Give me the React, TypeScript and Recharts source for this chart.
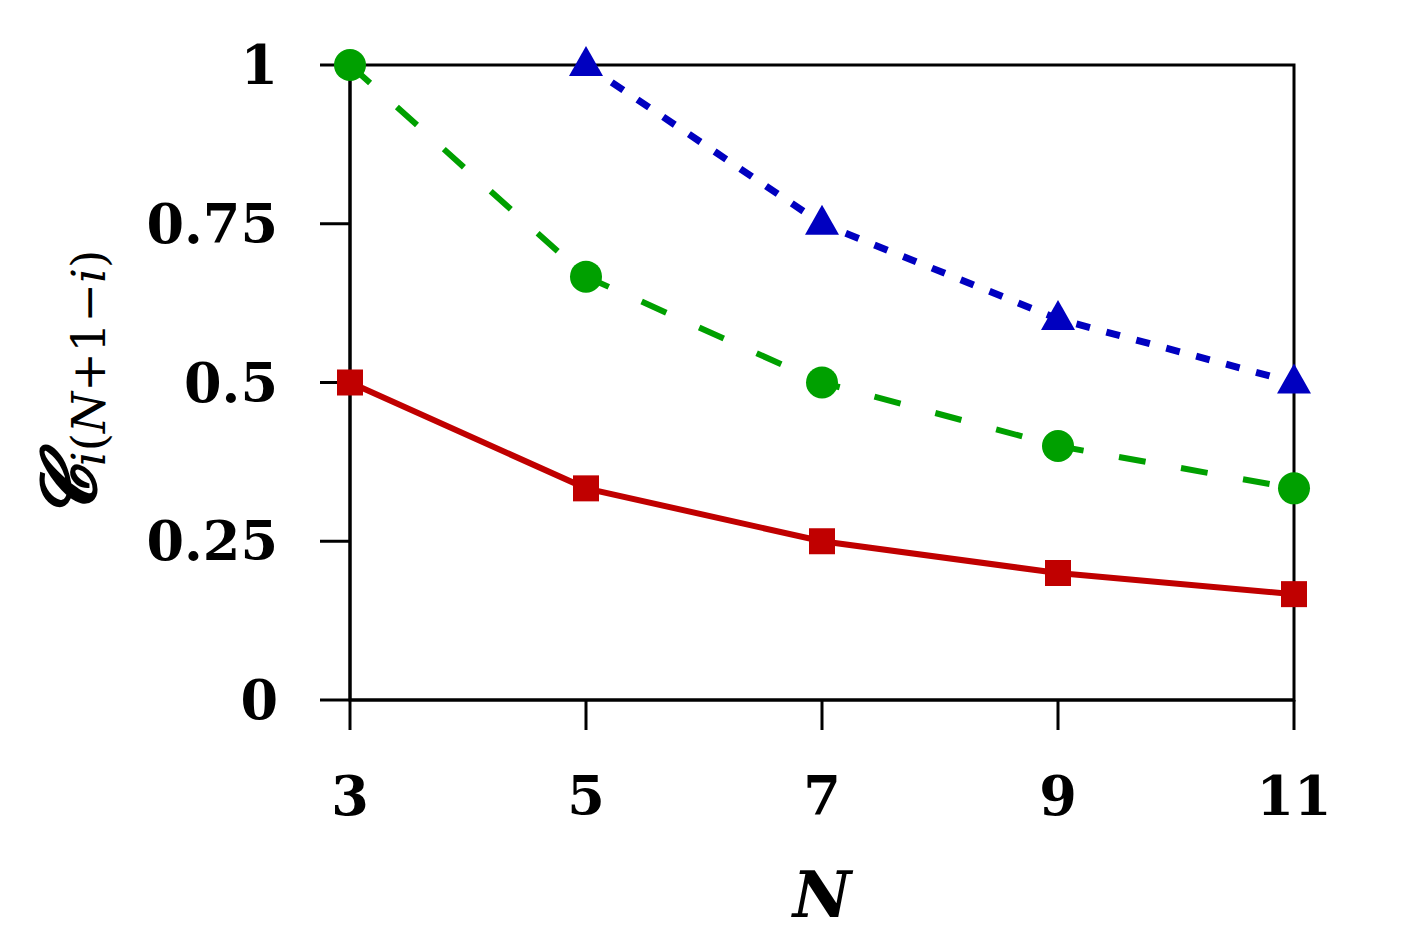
import React from "react";
import { LineChart, Line, XAxis, YAxis, ReferenceArea } from "recharts";

const nValues = [3, 5, 7, 9, 11];
const solidValues = [0.5, 0.3333, 0.25, 0.2, 0.1667];
const dashedValues = [1, 0.6667, 0.5, 0.4, 0.3333];
const dottedValues = [null, 1, 0.75, 0.6, 0.5];
const xTicks = [3, 5, 7, 9, 11];
const yTicks = [0, 0.25, 0.5, 0.75, 1];
const yTickLabels = ["0", "0.25", "0.5", "0.75", "1"];

const RED = "#c00000";
const GREEN = "#00a000";
const BLUE = "#0000c0";
const FONT = "'DejaVu Serif', serif";

const data = nValues.map((n, i) => ({
  n,
  solid: solidValues[i],
  dashed: dashedValues[i],
  dotted: dottedValues[i],
}));

function SquareDot(props: any) {
  const { cx, cy, index } = props;
  if (cx == null || cy == null) return <g key={`s-${index}`} />;
  return <rect key={`s-${index}`} x={cx - 13} y={cy - 13} width={26} height={26} fill={RED} />;
}

function CircleDot(props: any) {
  const { cx, cy, index } = props;
  if (cx == null || cy == null) return <g key={`c-${index}`} />;
  return <circle key={`c-${index}`} cx={cx} cy={cy} r={16} fill={GREEN} />;
}

function TriangleDot(props: any) {
  const { cx, cy, index, value } = props;
  if (cx == null || cy == null || value == null) return <g key={`t-${index}`} />;
  const pts = `${cx},${cy - 19} ${cx - 17},${cy + 11} ${cx + 17},${cy + 11}`;
  return <polygon key={`t-${index}`} points={pts} fill={BLUE} />;
}

function YLabel() {
  return (
    <text
      transform="rotate(-90)"
      x={-385}
      y={95}
      textAnchor="middle"
      fontFamily={FONT}
      fill="#000"
    >
      <tspan fontSize={76} fontStyle="italic" fontWeight="bold">𝓒</tspan>
      <tspan fontSize={47} dy={10} fontWeight="normal">
        <tspan fontStyle="italic">i</tspan>(<tspan fontStyle="italic">N</tspan>+1−<tspan fontStyle="italic">i</tspan>)
      </tspan>
    </text>
  );
}

function XLabel() {
  return (
    <text
      x={822}
      y={917}
      textAnchor="middle"
      fontFamily={FONT}
      fontWeight="bold"
      fontStyle="italic"
      fontSize={64}
      fill="#000"
    >
      N
    </text>
  );
}

export default function App() {
  return (
    <div style={{ position: "absolute", left: 0, top: 0, background: "#fff" }}>
      <LineChart
        width={1412}
        height={941}
        data={data}
        margin={{ top: 65, right: 118, left: 0, bottom: 0 }}
      >
        <XAxis
          dataKey="n"
          type="number"
          domain={[3, 11]}
          ticks={xTicks}
          height={241}
          tickSize={30}
          tickMargin={47}
          axisLine={{ stroke: "#000", strokeWidth: 3 }}
          tickLine={{ stroke: "#000", strokeWidth: 3 }}
          tick={{ fontSize: 54, fontFamily: FONT, fontWeight: "bold", fill: "#000" }}
          label={{ content: () => <XLabel /> }}
        />
        <YAxis
          type="number"
          domain={[0, 1]}
          ticks={yTicks}
          width={350}
          tickSize={30}
          tickMargin={42}
          tickFormatter={(v: number) => yTickLabels[yTicks.indexOf(v)] ?? String(v)}
          axisLine={{ stroke: "#000", strokeWidth: 3 }}
          tickLine={{ stroke: "#000", strokeWidth: 3 }}
          tick={{ fontSize: 54, fontFamily: FONT, fontWeight: "bold", fill: "#000" }}
          label={{ content: () => <YLabel /> }}
        />
        <ReferenceArea x1={3} x2={11} y1={0} y2={1} fill="none" stroke="#000" strokeWidth={3} fillOpacity={0} />
        <Line
          dataKey="solid"
          stroke={RED}
          strokeWidth={6}
          dot={(p: any) => <SquareDot {...p} />}
          activeDot={false}
          isAnimationActive={false}
        />
        <Line
          dataKey="dashed"
          stroke={GREEN}
          strokeWidth={6}
          strokeDasharray="27 36"
          dot={(p: any) => <CircleDot {...p} />}
          activeDot={false}
          isAnimationActive={false}
        />
        <Line
          dataKey="dotted"
          stroke={BLUE}
          strokeWidth={7}
          strokeDasharray="14 17"
          dot={(p: any) => <TriangleDot {...p} />}
          activeDot={false}
          isAnimationActive={false}
        />
      </LineChart>
    </div>
  );
}
